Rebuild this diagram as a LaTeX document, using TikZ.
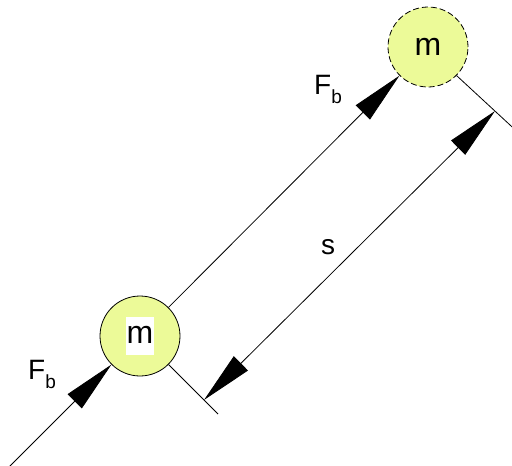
\documentclass[tikz,border=0pt]{standalone}
\usepackage{fontspec}
\setmainfont{Liberation Sans}
\usetikzlibrary{arrows.meta, calc}
\definecolor{massfill}{RGB}{236,250,152}
\newcommand{\forcelbl}{F\raisebox{-9pt}{\fontsize{19}{19}\selectfont b}}
\tikzset{
  mass/.style={circle, draw=black, fill=massfill, minimum size=80pt,
    inner sep=0pt, font=\fontsize{32}{36}\selectfont, line width=0.8pt},
  force/.style={-{Triangle[length=52pt, width=20pt]}, line width=0.8pt},
  dimline/.style={{Triangle[length=52pt, width=20pt]}-{Triangle[length=52pt, width=20pt]},
    line width=0.8pt},
  extline/.style={line width=0.8pt},
  lbl/.style={font=\fontsize{28}{32}\selectfont, inner sep=0pt}
}

\begin{document}
\begin{tikzpicture}[x=1pt, y=-1pt]
  \useasboundingbox (0,0) rectangle (512,466);
  \node[mass] (mA) at (140,336) {\setlength{\fboxsep}{1pt}\colorbox{white}{\strut m}};
  \node[mass, dash pattern=on 6pt off 3pt] (mB) at (428,47) {m};
  \coordinate (start) at ($(mA)+(-150,150)$);
  \coordinate (sA) at ($(mA)+(64,64)$);
  \coordinate (sB) at ($(mB)+(67,64)$);
  \coordinate (eA) at ($(mA)+(78,78)$);
  \coordinate (eB) at ($(mB)+(95,90)$);
  \draw[force] (start) -- (mA);
  \draw[force] (mA) -- (mB);
  \draw[extline] (mA.-45) -- (eA);
  \draw[extline] (mB.-45) -- (eB);
  \draw[dimline] (sA) -- (sB);
  \node[lbl] (fA) at (42,374) {\forcelbl};
  \node[lbl] (fB) at (328,89) {\forcelbl};
  \node[lbl] (dist) at (328,247) {s};
\end{tikzpicture}
\end{document}
